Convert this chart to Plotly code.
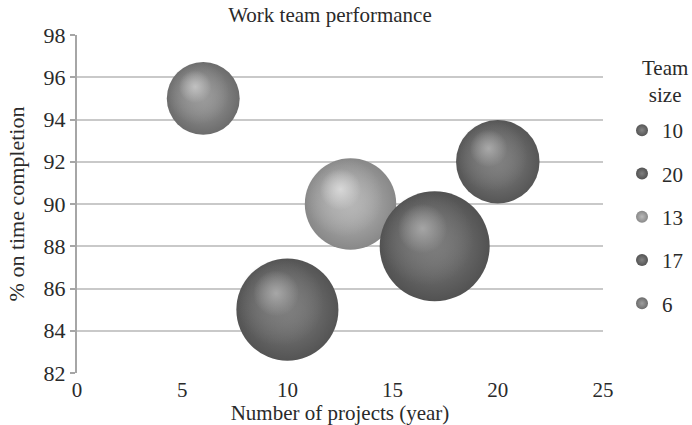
import plotly.graph_objects as go

# Work team performance data
team_size = [10, 20, 13, 17, 6]            # series names / bubble size
projects = [20, 17, 13, 10, 6]             # number of projects per year
on_time = [92, 88, 90, 85, 95]             # % on time completion

# sphere shading per team: (rim, body, highlight) grey levels
shades = {
    10: (86, 126, 174),
    20: (82, 122, 170),
    13: (136, 180, 220),
    17: (84, 124, 172),
    6: (108, 152, 198),
}

W, H = 692, 425
M = dict(l=77, r=0, t=35, b=52, autoexpand=False)
PLOT_W = 526
X_RANGE = [0, 25]
Y_RANGE = [82, 98]
plot_h = H - M["t"] - M["b"]
px_x = PLOT_W / (X_RANGE[1] - X_RANGE[0])
px_y = plot_h / (Y_RANGE[1] - Y_RANGE[0])


def diameter(s):
    return 57 + 2.65 * s


def grey(v, a=1.0):
    return f"rgba({v},{v},{v},{a})"


def shifted(i, d, fx, fy):
    # position offset by a fraction of the bubble diameter (screen pixels)
    return projects[i] + fx * d / px_x, on_time[i] + fy * d / px_y


fig = go.Figure()

# small bubbles first so the larger ones overlap them
order = sorted(range(len(team_size)), key=lambda i: team_size[i])

for i in order:
    s = team_size[i]
    d = diameter(s)
    rim, body, hi = shades[s]
    # sphere body: dark rim to mid grey
    fig.add_trace(go.Scatter(
        x=[projects[i]], y=[on_time[i]], mode="markers",
        name=str(s), legendgroup=str(s), legendrank=i + 1,
        marker=dict(size=d, color=grey(rim), line=dict(width=0),
                    gradient=dict(type="radial", color=grey(body + 6))),
        hoverinfo="skip",
    ))
    # soft fill that flattens the centre of the sphere
    x1, y1 = shifted(i, d, -0.07, 0.07)
    fig.add_trace(go.Scatter(
        x=[x1], y=[y1], mode="markers", showlegend=False,
        marker=dict(size=d * 0.85, color=grey(body, 0.0), line=dict(width=0),
                    gradient=dict(type="radial", color=grey(body, 0.95))),
        hoverinfo="skip",
    ))
    # specular highlight, up and to the left
    x2, y2 = shifted(i, d, -0.11, 0.16)
    fig.add_trace(go.Scatter(
        x=[x2], y=[y2], mode="markers", showlegend=False,
        marker=dict(size=d * 0.45, color=grey(hi, 0.0), line=dict(width=0),
                    gradient=dict(type="radial", color=grey(hi, 0.9))),
        hoverinfo="skip",
    ))

font = "Liberation Serif"
paper_w = W - M["l"] - M["r"]
fig.update_layout(
    width=W, height=H, margin=M,
    paper_bgcolor="white", plot_bgcolor="white",
    font=dict(family=font, size=21, color="#2a2a2a"),
    title=dict(text="Work team performance", x=330 / W, xref="container",
               xanchor="center", y=1 - 15 / H, yanchor="middle",
               font=dict(size=21)),
    xaxis=dict(domain=[0, PLOT_W / paper_w], range=X_RANGE,
               tickvals=[0, 5, 10, 15, 20, 25],
               showgrid=False, zeroline=False, showline=False,
               ticks="", ticklabelstandoff=2,
               title=dict(text="Number of projects (year)", standoff=6,
                          font=dict(size=21))),
    yaxis=dict(range=Y_RANGE, dtick=2, showgrid=True, gridcolor="#c9c9c9",
               gridwidth=1.5, zeroline=False, showline=True,
               linecolor="#a6a6a6", linewidth=2, ticks="outside",
               ticklen=5, tickcolor="#a6a6a6", tickwidth=1.5,
               tickfont=dict(size=22),
               title=dict(text="% on time completion", standoff=13,
                          font=dict(size=22))),
    legend=dict(x=(622 - M["l"]) / paper_w, xanchor="left",
                y=1 - (110 - M["t"]) / plot_h, yanchor="top",
                itemsizing="constant", tracegroupgap=13,
                font=dict(size=21), itemwidth=30),
    showlegend=True,
    annotations=[dict(text="Team<br>size", xref="paper", yref="paper",
                      x=(665 - M["l"]) / paper_w, xanchor="center",
                      y=1 - (82 - M["t"]) / plot_h,
                      yanchor="middle", align="center", showarrow=False,
                      font=dict(size=21))],
)

fig.write_html("out.html")
